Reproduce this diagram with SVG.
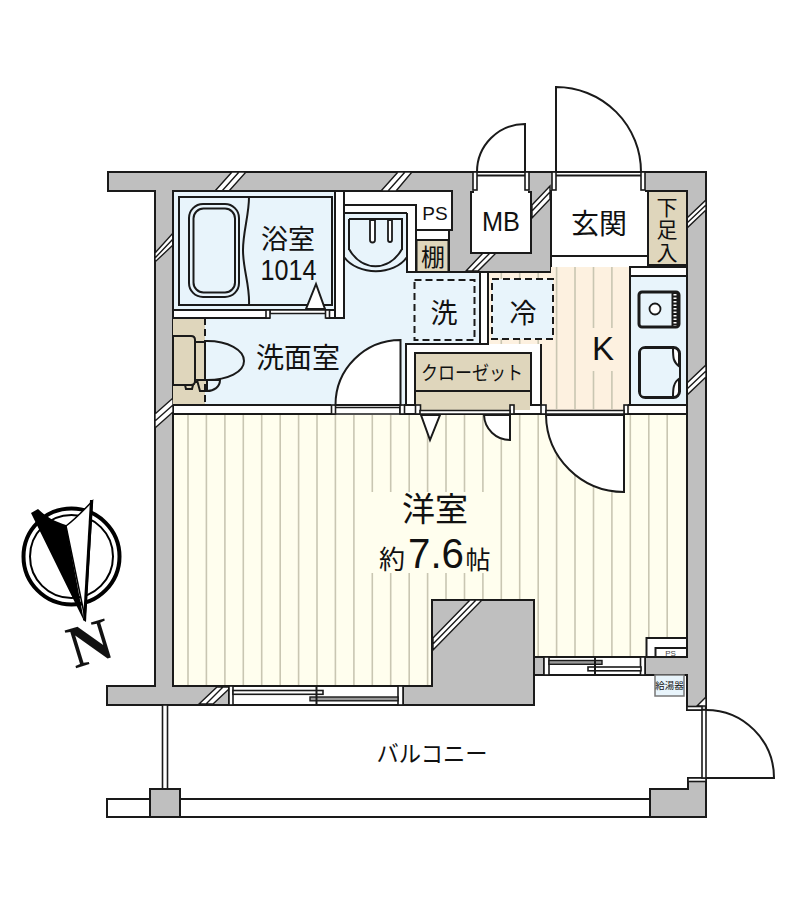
<svg xmlns="http://www.w3.org/2000/svg" width="807" height="900" viewBox="0 0 807 900">
<style>
.l{fill:none;stroke:#1a1a1a;stroke-width:2}
.w{fill:#fff;stroke:#1a1a1a;stroke-width:2}
.g{fill:#bfbfbf;stroke:#1a1a1a;stroke-width:2}
.b{fill:#e8f4fb;stroke:#1a1a1a;stroke-width:2}
.t{fill:#dfd6bc;stroke:#1a1a1a;stroke-width:2}
.j{fill:#fff;stroke:#1a1a1a;stroke-width:1.6}
.h{fill:#fff;stroke:#1a1a1a;stroke-width:1.4}
.s{fill:none;stroke:#c9c6b2;stroke-width:1.6}
.d{fill:none;stroke:#1a1a1a;stroke-width:2;stroke-dasharray:7 4}
text{font-family:"Noto Sans CJK JP","Liberation Sans",sans-serif;fill:#111;text-anchor:middle}
.a{font-family:"Liberation Sans","Noto Sans CJK JP",sans-serif}
</style>
<rect width="807" height="900" fill="#fff"/>
<g id="walls">
<path class="g" d="M108 172H706V710H687V675H645V657H544V675H534V705H107V686H155V191H108Z"/>
<path class="w" d="M173 191H452V230H449V272H551V191H687V657H534V600H432V686H173Z"/>
<path class="h" d="M215 191L232 172H246L229 191ZM222 191L239 172"/>
<path class="h" d="M381 191L398 172H412L396 191ZM388 191L405 172"/>
<path class="h" d="M155 253L173 233V245L155 262ZM155 258L173 239"/>
<path class="h" d="M155 414L173 398V412L155 428ZM155 421L173 405"/>
<path class="h" d="M532 205L550 186V199L532 218ZM532 211L550 192"/>
<path class="h" d="M466 271L483 253H496L478 271ZM472 271L490 253"/>
<path class="h" d="M687 218L706 200V210L687 228ZM687 223L706 205"/>
<path class="h" d="M687 383L706 365V377L687 395ZM687 389L706 371"/>
<path class="h" d="M199 704L217 687H229V689L213 704ZM206 704L223 687"/>
<path class="h" d="M697 706L706 697V706Z"/>
</g>
<g id="balcony">
<rect class="w" x="107" y="799" width="543" height="18"/>
<rect class="j" x="162.500" y="705" width="5" height="84"/>
<rect class="g" x="150" y="789" width="30" height="28"/>
<path class="g" d="M650 789H688V778H706V817H650Z"/>
<rect class="j" x="688" y="778" width="18" height="3.500"/>
<rect class="j" x="687" y="706.500" width="15" height="3.500"/>
<rect class="j" x="702" y="710" width="4" height="68"/>
<path class="l" d="M706 710A68 68 0 0 1 774 778H706"/>
<text x="432" y="762" font-size="23" textLength="111" lengthAdjust="spacingAndGlyphs">バルコニー</text>
</g>
<g id="western-room">
<path d="M174 415H687V657H534V600H432V686H174Z" fill="#fffeee"/>
<path class="s" d="M188 415V685M206.400 415V685M224.900 415V685M243.300 415V685M261.700 415V685M280.200 415V685M298.600 415V685M317 415V685M335.400 415V685M353.900 415V685M372.300 415V685M390.700 415V685M409.200 415V685M427.600 415V685M446 415V599M464.500 415V599M482.900 415V599M501.300 415V599M519.700 415V599M538.200 415V656M556.600 415V656M575 415V656M593.500 415V656M611.900 415V656M630.300 415V656M648.800 415V637M667.200 415V637"/>
<rect x="366" y="492" width="125" height="81" fill="#fffeee"/>
<path class="g" d="M432 686V600H534V705H403V686Z"/>
<path class="h" d="M433 638L470 600H482L433 650ZM433 644L476 600"/>
<path class="l" d="M173 686H432M534 657H687M687 414V657M173 414V686"/>
<text x="435" y="521" font-size="33">洋室</text>
<text x="392" y="569" font-size="26">約</text>
<text class="a" x="436" y="568" font-size="43" textLength="56" lengthAdjust="spacingAndGlyphs">7.6</text>
<text x="478" y="569" font-size="25">帖</text>
</g>
<g id="lower-windows">
<rect class="w" x="229" y="686" width="174" height="19"/>
<rect class="j" x="229" y="686" width="4" height="19"/>
<rect class="j" x="398" y="686" width="5" height="19"/>
<rect class="j" x="233" y="690.500" width="90" height="3.800"/>
<rect x="310" y="697" width="88" height="3.800" fill="#999" stroke="#1a1a1a" stroke-width="1.400"/>
<path class="l" d="M316.500 686V705"/>
<rect class="w" x="544" y="657" width="101" height="18"/>
<rect class="j" x="544" y="657" width="5" height="18"/>
<rect class="j" x="640.500" y="657" width="4.500" height="18"/>
<rect x="549" y="660.500" width="53" height="3.800" fill="#999" stroke="#1a1a1a" stroke-width="1.400"/>
<rect class="j" x="588" y="667" width="53" height="3.800"/>
<path class="l" d="M595 657V675"/>
</g>
<g id="small-ps">
<path class="w" d="M646.500 657V638H687V657Z"/>
<path class="w" d="M655.500 657V648H687V657Z"/>
<text class="a" x="670.500" y="656" font-size="8" style="fill:#444">PS</text>
</g>
<g id="water-heater">
<rect x="655" y="675" width="29" height="21" fill="#e8f4fb" stroke="#777" stroke-width="1.500"/>
<text x="669.500" y="689" font-size="9.500">給湯器</text>
</g>
<g id="bathroom">
<rect class="b" x="173" y="191" width="162" height="119"/>
<rect class="b" x="179" y="197" width="153" height="108"/>
<rect class="b" x="189" y="204" width="50" height="93" rx="14"/>
<rect class="b" x="193.500" y="208.500" width="41.500" height="84" rx="10"/>
<path class="l" d="M249 197C249 215 243 232 243 250C243 270 250 285 249 305"/>
<path d="M316 284L306 309H325Z" fill="#fff" stroke="#1a1a1a" stroke-width="2"/>
<text x="288" y="249" font-size="27">浴室</text>
<text class="a" x="288.500" y="280" font-size="29" textLength="56" lengthAdjust="spacingAndGlyphs">1014</text>
</g>
<g id="washroom">
<path d="M173 318H344V213H407V272H479V344H406V405H173Z" fill="#e8f4fb"/>
<rect x="173" y="318" width="32" height="87" fill="#dfd6bc"/>
<rect class="w" x="173" y="310" width="171" height="8"/>
<rect class="w" x="335" y="191" width="9" height="127"/>
<path class="l" d="M344 205H416V272M416 230H452M407 213V272H480V344M344 213H407"/>
<path d="M270 314H326V319H270Z" fill="#e8f4fb"/>
<path class="j" d="M270 310H326V313.500H270Z"/>
<rect class="j" x="266" y="310" width="4" height="8"/>
<rect class="j" x="325.500" y="310" width="4" height="8"/>
<path class="l" d="M344 213V258M349 219H402V250M349 219V250"/>
<path class="l" d="M349 249C362 272 389 272 402 249"/>
<path class="l" d="M344 257C358 276 394 276 407 257"/>
<path d="M370 220V240A2.500 2.500 0 0 0 375 240V220ZM388 220V240A2 2 0 0 0 392 240V220Z" fill="#fff" stroke="#1a1a1a" stroke-width="1.800"/>
<path d="M173 336H191Q195 336 195 340V381Q195 385 191 385H173Z" fill="#dfd6bc" stroke="#1a1a1a" stroke-width="2"/>
<rect class="t" x="195" y="342" width="10" height="40"/>
<path class="b" d="M205 341H207C228 341 244 350 244 361C244 372 228 380 207 380H205Z"/>
<path class="t" d="M197 380H207V391H200Z"/>
<path class="b" d="M207 380H220C220 387 214 391 207 391Z"/>
<path class="t" d="M185 385H193L192 389H186Z"/>
<path class="d" d="M205 318V405"/>
<text x="298" y="368" font-size="28">洗面室</text>
</g>
<g id="ps"><text class="a" x="435" y="220" font-size="19">PS</text></g>
<g id="shelf">
<rect class="t" x="416.500" y="240" width="32" height="32"/>
<text x="433" y="266" font-size="24">棚</text>
</g>
<g id="washer">
<rect class="d" x="414.500" y="280" width="60" height="60"/>
<text x="444" y="323" font-size="27">洗</text>
</g>
<g id="kitchen">
<path d="M488 273H551V267H630V410H546V405H541V344H488Z" fill="#fdf1e0"/>
<path class="s" d="M501.300 273V344M519.700 273V344M538.200 273V344M556.600 267V409M575 267V409M593.500 267V409M611.900 267V409"/>
<rect x="585" y="328" width="34" height="43" fill="#fdf1e0"/>
<rect x="492" y="279" width="61" height="60" fill="#e8f4fb"/>
<rect class="d" x="492" y="279" width="61" height="60"/>
<text x="523" y="323" font-size="27">冷</text>
<text class="a" x="603" y="360" font-size="33">K</text>
<path class="l" d="M488 272V344H406V405M541 344V405M630 267V405"/>
<rect class="w" x="630" y="267" width="57" height="9"/>
<rect class="b" x="630" y="276" width="57" height="129"/>
<rect x="639" y="292" width="40" height="35" rx="3" fill="#e8f4fb" stroke="#1a1a1a" stroke-width="3"/>
<path d="M675 293V326" stroke="#1a1a1a" stroke-width="7" fill="none"/>
<path d="M675 294V326" stroke="#fff" stroke-width="3" stroke-dasharray="1.500 2" fill="none"/>
<circle cx="655" cy="309" r="5.500" fill="#fff" stroke="#1a1a1a" stroke-width="1.800"/>
<rect x="639.500" y="347.500" width="40" height="50" rx="6" fill="#fff" stroke="#1a1a1a" stroke-width="3"/>
<path d="M673 348C673 358 673 362 680 367V378C673 382 673 390 673 397H644Q640 397 640 393V352Q640 348 644 348Z" fill="#e8f4fb" stroke="#1a1a1a" stroke-width="2"/>
</g>
<g id="closet">
<rect class="t" x="415" y="353" width="116" height="52"/>
<path class="l" d="M415 391H531"/>
<rect x="416" y="404" width="114" height="6" fill="#dfd6bc"/>
<text x="472" y="380" font-size="19" textLength="102" lengthAdjust="spacingAndGlyphs">クローゼット</text>
</g>
<g id="partition">
<path class="l" d="M173 405H331M404 405H415M531 405H541M628 405H687M173 414H335M400 414H687"/>
<rect x="335" y="405" width="65" height="9" fill="#fff"/>
<path class="j" d="M335 407.500H400V414H335Z"/>
<rect class="j" x="331.500" y="405" width="4" height="9"/>
<rect class="j" x="400" y="405" width="4.500" height="9"/>
<rect class="j" x="415.500" y="405" width="5" height="9"/>
<rect class="j" x="510" y="405" width="4" height="9"/>
<rect class="j" x="541" y="405" width="5" height="9"/>
<rect class="j" x="624" y="405" width="4" height="9"/>
<path class="j" d="M420 410.500H510V414H420Z"/>
<path class="j" d="M546 410.500H624V414H546Z"/>
<path class="w" d="M421 415H440L430 440Z"/>
<path class="w" d="M510 415V440A26 26 0 0 1 484 415Z"/>
<path class="w" d="M624 415V492A78 78 0 0 1 546 415Z"/>
<path class="w" d="M400.500 405V340A65 65 0 0 0 335.500 405Z"/>
</g>
<g id="mb">
<rect class="w" x="471" y="192" width="60" height="61"/>
<rect x="474" y="172" width="54" height="21" fill="#fff"/>
<path class="l" d="M477 172H525M477 175.500H525"/>
<rect class="j" x="473" y="172" width="4" height="18"/>
<rect class="j" x="525" y="172" width="4" height="18"/>
<path class="l" d="M477 172A48 48 0 0 1 525 124V172"/>
<text class="a" x="501" y="231" font-size="28" textLength="38" lengthAdjust="spacingAndGlyphs">MB</text>
</g>
<g id="entrance">
<rect x="552" y="172" width="93" height="21" fill="#fff"/>
<path class="l" d="M556 172H641M556 175.500H641"/>
<rect class="j" x="552" y="172" width="4" height="18"/>
<rect class="j" x="641" y="172" width="4" height="18"/>
<path class="l" d="M556 172V87A85 85 0 0 1 641 172"/>
<path class="l" d="M551 256H648"/>
<text x="599" y="234" font-size="28">玄関</text>
</g>
<g id="shoe-box">
<rect class="t" x="648" y="191" width="39" height="74"/>
<text x="667" y="230" font-size="21" letter-spacing="1.500" style="writing-mode:vertical-rl">下足入</text>
</g>
<g id="compass">
<circle cx="71.500" cy="556.500" r="48" fill="#fff" stroke="#000" stroke-width="4"/>
<circle cx="71.500" cy="556.500" r="41.500" fill="none" stroke="#000" stroke-width="2"/>
<path d="M92.500 501C84 510 74 520 66 526L85 618Z" fill="#fff" stroke="#000" stroke-width="1.500"/>
<path d="M93 500L90 500L83 620L86 622Z" fill="#000"/>
<path d="M31 513L38 509C46 517 56 522 66 525L84 621Z" fill="#000"/>
<text x="0" y="20" transform="translate(90 643) rotate(-17)" font-size="60" font-weight="bold" style="font-family:'Liberation Serif',serif">N</text>
</g>
</svg>
